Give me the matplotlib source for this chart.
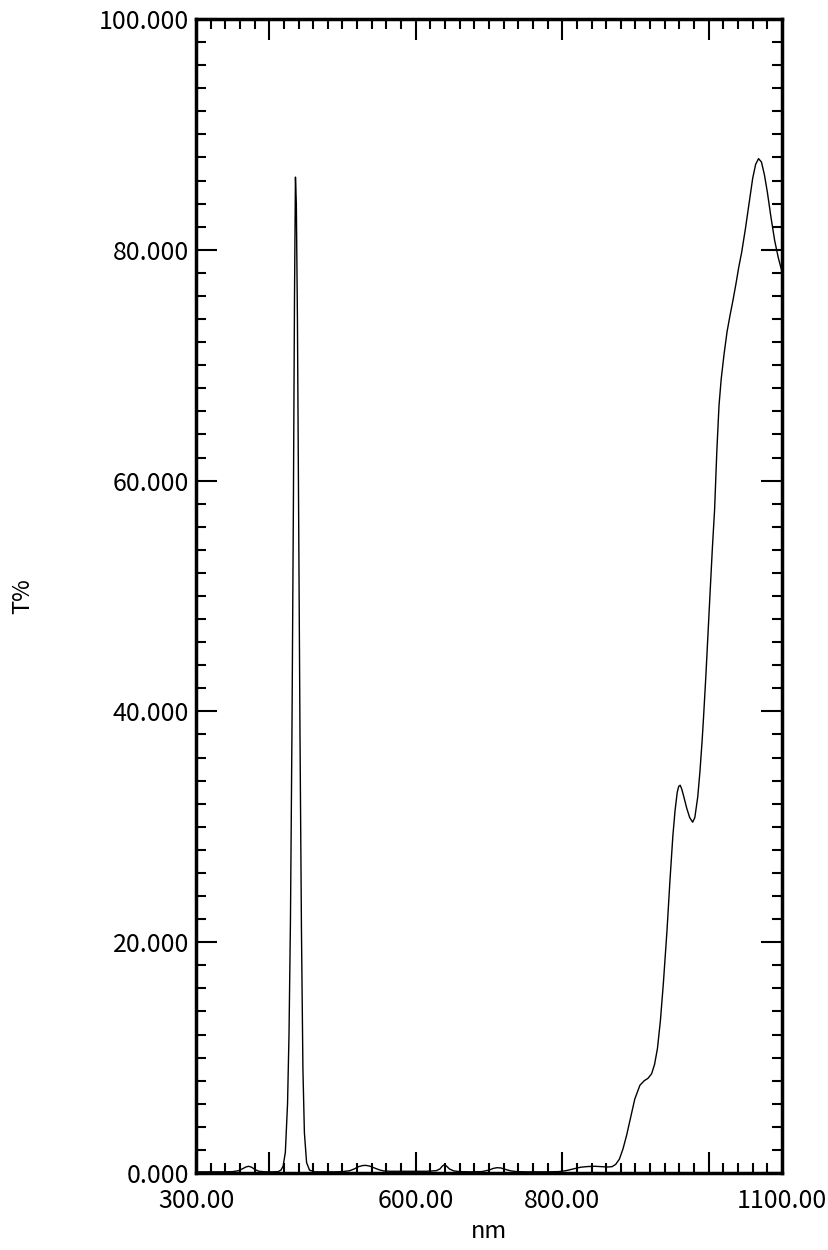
import matplotlib.pyplot as plt
from matplotlib.ticker import MultipleLocator, FixedLocator

plt.rcParams['font.family'] = ['Noto Sans CJK JP', 'DejaVu Sans']

# transmission spectrum
wavelength = [300, 310, 320, 330, 340, 350, 358, 364, 368, 372, 376, 381, 386, 395, 405,
              412, 416, 419, 422, 425, 427, 429, 431, 433, 434.5, 435.8, 437, 438.5, 440,
              442, 444, 446, 448, 451, 455, 462, 470, 480, 490, 500, 510, 516, 522, 528,
              532, 537, 543, 550, 556, 565, 580, 600, 615, 628, 633, 636, 639, 642, 646,
              652, 660, 675, 690, 700, 706, 711, 716, 722, 730, 738, 750, 765, 780, 795,
              805, 815, 825, 835, 845, 855, 862, 868, 873, 878, 883, 888, 893, 899, 906,
              912, 917, 922, 926, 930, 934, 938, 943, 947, 951, 954, 957, 959, 961, 963,
              966, 970, 974, 978, 981, 985, 988, 991, 993, 996, 999, 1002, 1005, 1008,
              1011, 1014, 1017, 1021, 1025, 1029, 1033, 1037, 1041, 1045, 1050, 1055,
              1060, 1064, 1068, 1072, 1076, 1080, 1085, 1090, 1095, 1100]
transmission = [0.1, 0.1, 0.1, 0.1, 0.1, 0.12, 0.2, 0.38, 0.52, 0.58, 0.5, 0.28, 0.15, 0.1, 0.1,
                0.12, 0.25, 0.6, 1.8, 6, 12, 22, 38, 58, 76, 86.3, 84, 74, 58,
                38, 21, 9, 3.5, 0.9, 0.25, 0.1, 0.1, 0.1, 0.1, 0.12, 0.2, 0.35, 0.55, 0.65,
                0.66, 0.6, 0.45, 0.28, 0.18, 0.15, 0.15, 0.15, 0.15, 0.2, 0.35, 0.58, 0.72, 0.6, 0.35,
                0.18, 0.12, 0.1, 0.12, 0.25, 0.4, 0.46, 0.44, 0.32, 0.18, 0.12, 0.1, 0.1, 0.1, 0.12,
                0.2, 0.35, 0.5, 0.56, 0.58, 0.55, 0.52, 0.55, 0.75, 1.2, 2.1, 3.3, 4.7, 6.4, 7.6,
                8.0, 8.2, 8.6, 9.4, 10.8, 13.2, 16.4, 21, 25.3, 29.2, 31.4, 33.0, 33.5, 33.6, 33.3,
                32.6, 31.6, 30.8, 30.4, 30.8, 32.6, 34.8, 37.5, 39.6, 43, 46.8, 50.5, 54.2, 57.5,
                62.5, 66.5, 68.8, 71, 72.9, 74.3, 75.6, 77.0, 78.5, 79.8, 81.8, 84.0,
                86.2, 87.4, 87.9, 87.6, 86.5, 85.0, 82.8, 80.8, 79.3, 78.1]

xtick_pos = [300, 400, 600, 800, 1000, 1100]
xtick_labels = ['300.00', '', '600.00', '800.00', '', '1100.00']
ytick_pos = [0, 20, 40, 60, 80, 100]
ytick_labels = ['%.3f' % v for v in ytick_pos]

fig = plt.figure(figsize=(8.29, 12.5), dpi=100)
ax = fig.add_axes([0.2364, 0.0616, 0.7069, 0.9232])

ax.plot(wavelength, transmission, color='black', linewidth=1.0)

ax.set_xlim(300, 1100)
ax.set_ylim(0, 100)
ax.xaxis.set_major_locator(FixedLocator(xtick_pos))
ax.set_xticklabels(xtick_labels)
ax.xaxis.set_minor_locator(MultipleLocator(20))
ax.set_yticks(ytick_pos)
ax.set_yticklabels(ytick_labels)
ax.yaxis.set_minor_locator(MultipleLocator(2))

ax.tick_params(which='both', direction='in', top=True, right=True, width=1.5, labelsize=18)
ax.tick_params(which='major', length=15)
ax.tick_params(which='minor', length=7)
ax.tick_params(axis='y', pad=5)
ax.tick_params(axis='x', pad=11)

for s in ax.spines.values():
    s.set_linewidth(2.5)

ax.set_xlabel('nm', fontsize=17, labelpad=4)
ax.set_ylabel('T%', fontsize=17)
ax.yaxis.set_label_coords(-0.276, 0.5)

fig.savefig('out.png', dpi=100)
